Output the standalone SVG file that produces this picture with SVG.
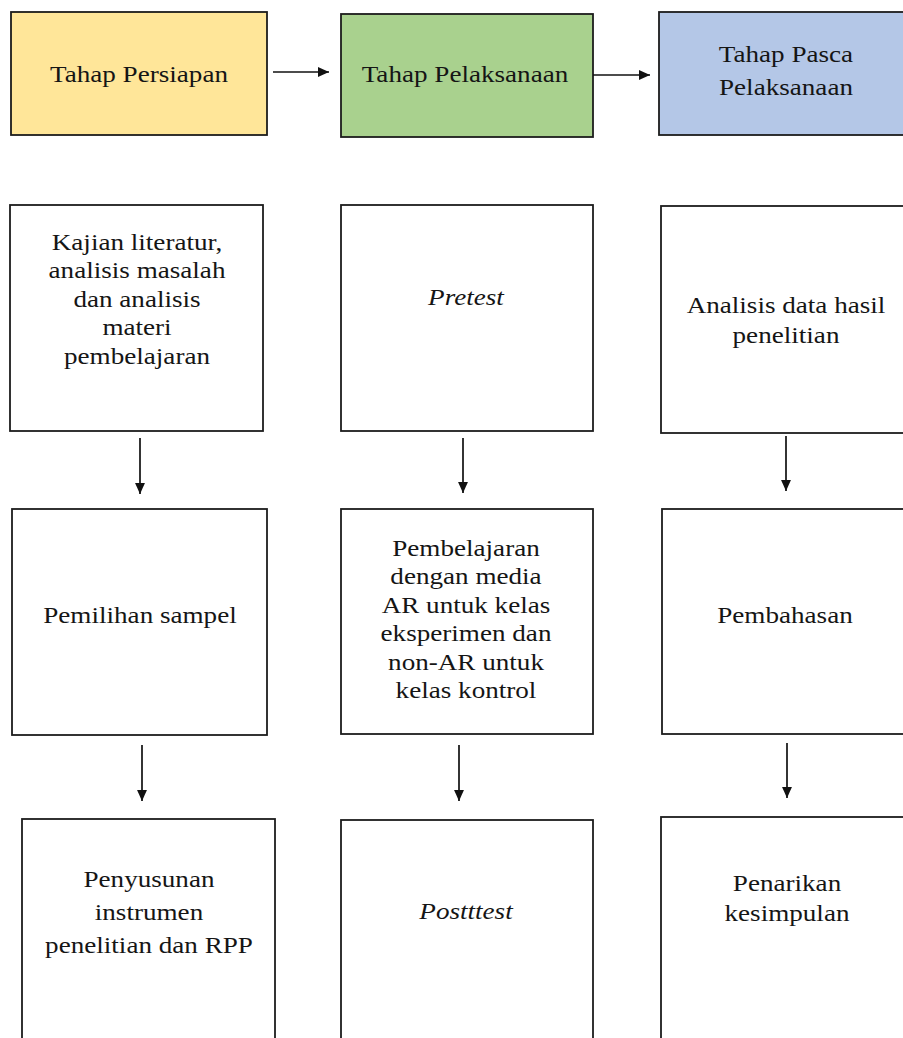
<svg xmlns="http://www.w3.org/2000/svg" width="903" height="1038" viewBox="0 0 903 1038">
<defs>
<style>
.box{stroke:#1c1c1c;stroke-width:1.8;fill:#fff}
.t{font-family:"Liberation Serif","Times New Roman",serif;font-size:24px;fill:#151515;text-anchor:middle}
.i{font-style:italic}
.c{stroke:#111;stroke-width:1.7;fill:none}
</style>
<marker id="ah" viewBox="0 0 10 10" refX="10" refY="5" markerWidth="11" markerHeight="11" markerUnits="userSpaceOnUse" orient="auto">
<path d="M0,0.5 L10,5 L0,9.5 z" fill="#111"/>
</marker>
</defs>
<rect width="903" height="1038" fill="#fff"/>

<g id="n-persiapan">
<rect class="box" x="11" y="12" width="256" height="123" style="fill:#FFE699"/>
<text class="t" transform="translate(139,82) scale(1.13,1)">Tahap Persiapan</text>
</g>
<g id="n-pelaksanaan">
<rect class="box" x="341" y="14" width="252" height="123" style="fill:#A9D18E"/>
<text class="t" transform="translate(465,82) scale(1.13,1)">Tahap Pelaksanaan</text>
</g>
<g id="n-pasca">
<rect class="box" x="659" y="12" width="250" height="123" style="fill:#B4C7E7"/>
<text class="t" transform="translate(786,62) scale(1.13,1)"><tspan x="0">Tahap Pasca</tspan><tspan x="0" dy="33">Pelaksanaan</tspan></text>
</g>

<g id="n-kajian">
<rect class="box" x="10" y="205" width="253" height="226"/>
<text class="t" transform="translate(137,250) scale(1.13,1)"><tspan x="0">Kajian literatur,</tspan><tspan x="0" dy="28.5">analisis masalah</tspan><tspan x="0" dy="28.5">dan analisis</tspan><tspan x="0" dy="28.5">materi</tspan><tspan x="0" dy="28.5">pembelajaran</tspan></text>
</g>
<g id="n-pretest">
<rect class="box" x="341" y="205" width="252" height="226"/>
<text class="t i" transform="translate(466,305) scale(1.13,1)">Pretest</text>
</g>
<g id="n-analisis">
<rect class="box" x="661" y="206" width="250" height="227"/>
<text class="t" transform="translate(786,313) scale(1.13,1)"><tspan x="0">Analisis data hasil</tspan><tspan x="0" dy="30">penelitian</tspan></text>
</g>

<g id="n-sampel">
<rect class="box" x="12" y="509" width="255" height="226"/>
<text class="t" transform="translate(140,623) scale(1.13,1)">Pemilihan sampel</text>
</g>
<g id="n-pembelajaran">
<rect class="box" x="341" y="509" width="252" height="225"/>
<text class="t" transform="translate(466,556) scale(1.13,1)"><tspan x="0">Pembelajaran</tspan><tspan x="0" dy="28.5">dengan media</tspan><tspan x="0" dy="28.5">AR untuk kelas</tspan><tspan x="0" dy="28.5">eksperimen dan</tspan><tspan x="0" dy="28.5">non-AR untuk</tspan><tspan x="0" dy="28.5">kelas kontrol</tspan></text>
</g>
<g id="n-pembahasan">
<rect class="box" x="662" y="509" width="250" height="225"/>
<text class="t" transform="translate(785,623) scale(1.13,1)">Pembahasan</text>
</g>

<g id="n-penyusunan">
<rect class="box" x="22" y="819" width="253" height="240"/>
<text class="t" transform="translate(149,887) scale(1.13,1)"><tspan x="0">Penyusunan</tspan><tspan x="0" dy="33">instrumen</tspan><tspan x="0" dy="33">penelitian dan RPP</tspan></text>
</g>
<g id="n-posttest">
<rect class="box" x="341" y="820" width="252" height="240"/>
<text class="t i" transform="translate(466,919) scale(1.13,1)">Postttest</text>
</g>
<g id="n-penarikan">
<rect class="box" x="661" y="817" width="250" height="240"/>
<text class="t" transform="translate(787,891) scale(1.13,1)"><tspan x="0">Penarikan</tspan><tspan x="0" dy="30">kesimpulan</tspan></text>
</g>

<g id="connectors">
<line class="c" x1="273" y1="72" x2="329" y2="72" marker-end="url(#ah)"/>
<line class="c" x1="593" y1="75" x2="650" y2="75" marker-end="url(#ah)"/>
<line class="c" x1="140" y1="438" x2="140" y2="494" marker-end="url(#ah)"/>
<line class="c" x1="463" y1="438" x2="463" y2="493" marker-end="url(#ah)"/>
<line class="c" x1="786" y1="436" x2="786" y2="491" marker-end="url(#ah)"/>
<line class="c" x1="142" y1="745" x2="142" y2="801" marker-end="url(#ah)"/>
<line class="c" x1="459" y1="745" x2="459" y2="801" marker-end="url(#ah)"/>
<line class="c" x1="787" y1="743" x2="787" y2="798" marker-end="url(#ah)"/>
</g>
</svg>
